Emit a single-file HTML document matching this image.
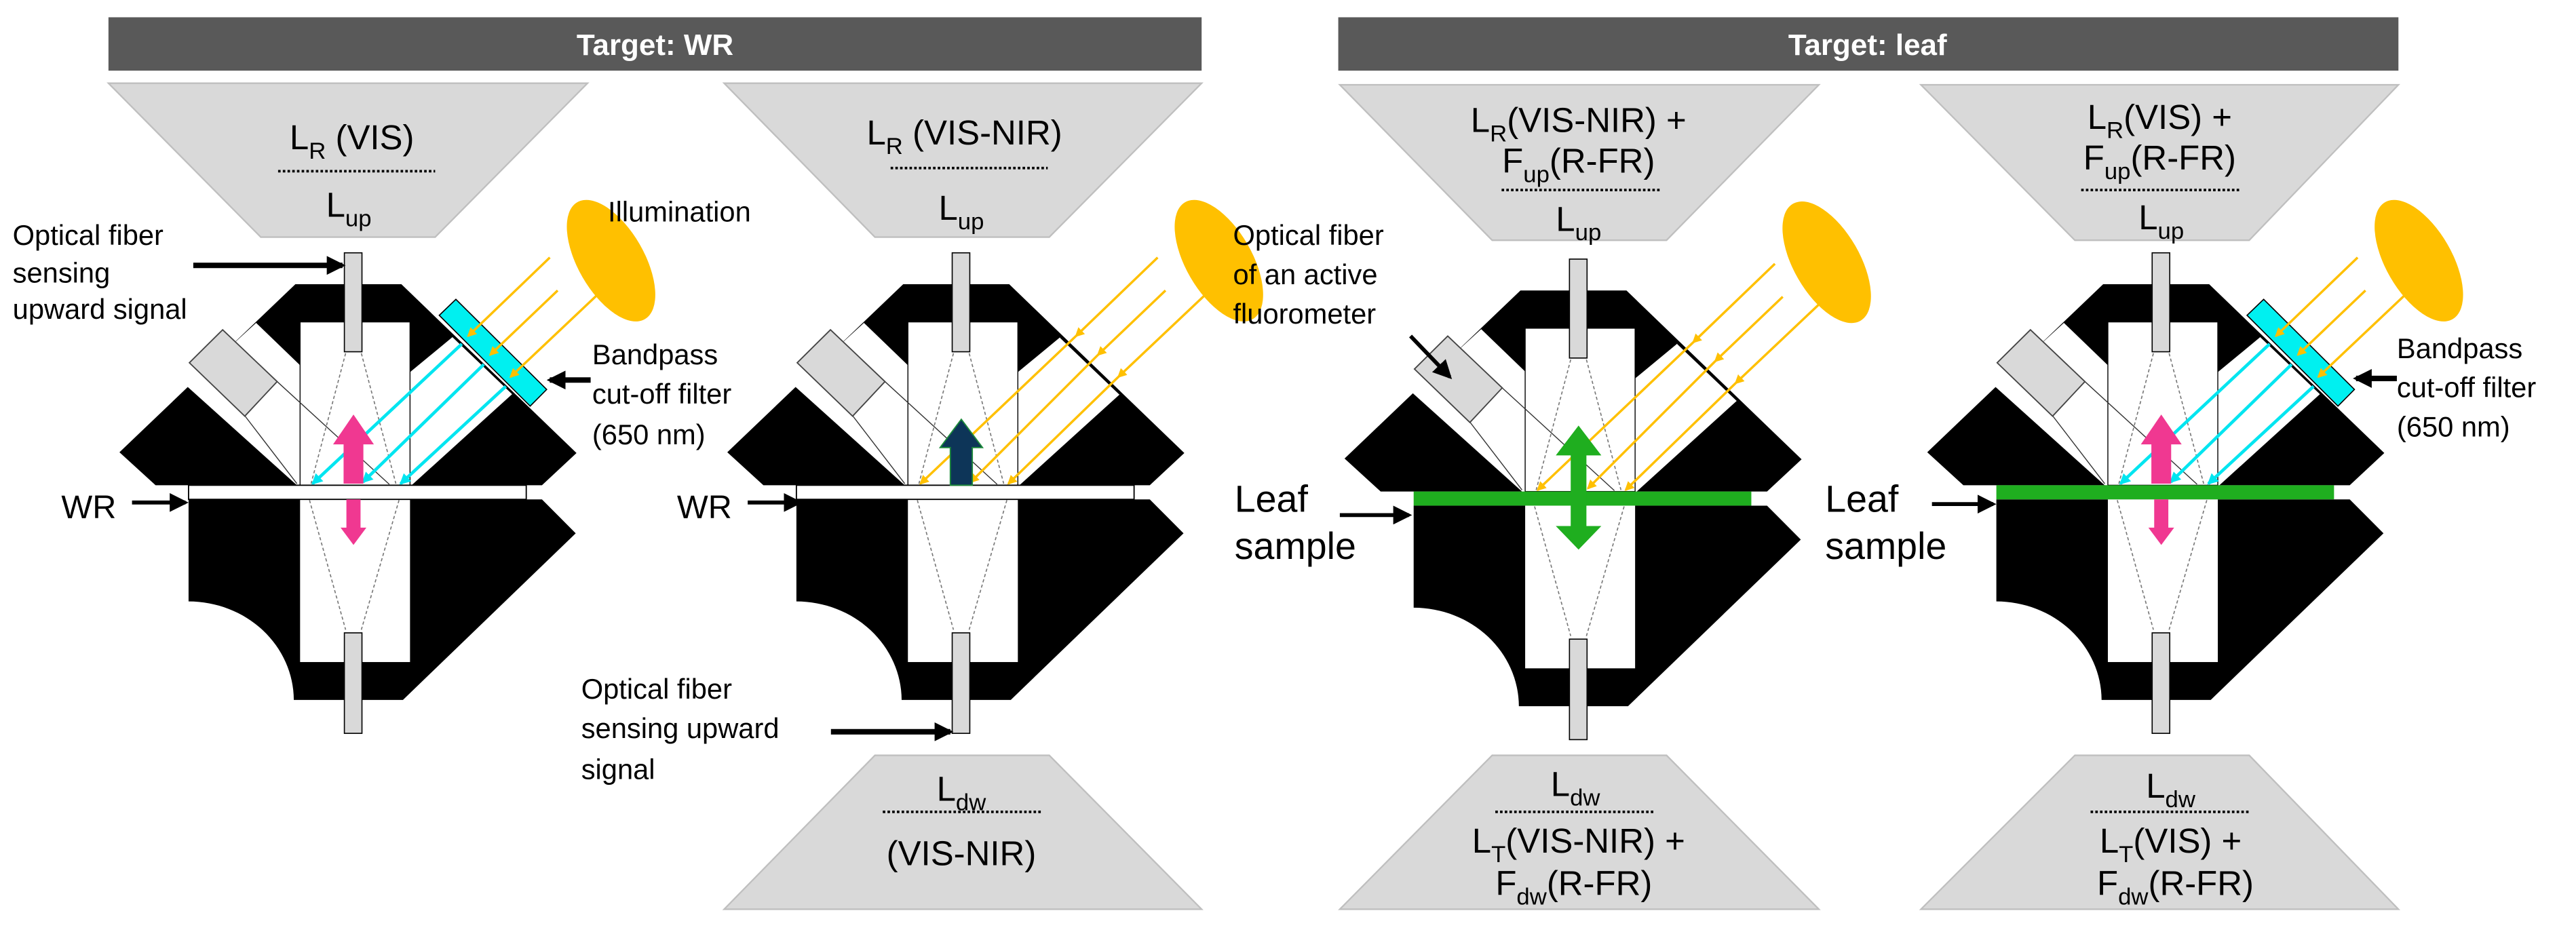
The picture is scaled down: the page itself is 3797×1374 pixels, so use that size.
<!DOCTYPE html>
<html><head><meta charset="utf-8"><style>
html,body{margin:0;padding:0;background:#fff;}
svg{display:block;}
text{font-family:"Liberation Sans",Arial,sans-serif;fill:#000;}
</style></head><body>
<svg width="3797" height="1374" viewBox="0 0 1640 593.5" xmlns="http://www.w3.org/2000/svg">
<defs>
<marker id="ya" markerWidth="6" markerHeight="6" refX="5" refY="3" orient="auto" markerUnits="userSpaceOnUse"><path d="M0,0 L6,3 L0,6 z" fill="#ffc000"/></marker>
<marker id="ca" markerWidth="7" markerHeight="7" refX="6" refY="3.5" orient="auto" markerUnits="userSpaceOnUse"><path d="M0,0 L7,3.5 L0,7 z" fill="#00e5f0"/></marker>
<marker id="ba" markerWidth="12" markerHeight="12" refX="10" refY="6" orient="auto" markerUnits="userSpaceOnUse"><path d="M0,0 L12,6 L0,12 z" fill="#000"/></marker>
<g id="body">
  <polygon points="-37,181 30.5,181 142,288.5 120,309 -126,309 -149,288" fill="#000"/>
  <polygon points="-106,246 -62,205.6 -34,232.6 -34,309 -36,309" fill="#fff"/>
  <polygon points="36,237 63,214.7 101,251 37,309 36,309" fill="#fff"/>
  <rect x="-34" y="205" width="70" height="104" fill="#fff" stroke="#000" stroke-width="0.6"/>
  <path d="M-105,318 L120,318 L141.5,339.6 L31.5,445.7 L-38,445.7 A67 63 0 0 0 -105,383 Z" fill="#000"/>
  <rect x="-34" y="318" width="70" height="103.6" fill="#fff"/>
  <rect x="-5.8" y="161" width="11.2" height="63" fill="#d9d9d9" stroke="#000" stroke-width="0.7"/>
  <rect x="-5.8" y="403" width="11.2" height="64" fill="#d9d9d9" stroke="#000" stroke-width="0.7"/>
  <g stroke="#777" stroke-width="0.7" stroke-dasharray="2,1.5" fill="none">
    <line x1="-5" y1="225" x2="-27" y2="308"/><line x1="5" y1="225" x2="27" y2="308"/>
    <line x1="-28" y1="318.5" x2="-5" y2="401"/><line x1="29" y1="318.5" x2="5" y2="401"/>
  </g>
  <g stroke="#333" stroke-width="0.6" fill="none">
    <line x1="-48.6" y1="243" x2="22.8" y2="308.4"/>
    <line x1="-69" y1="265" x2="-36" y2="308"/>
  </g>
  <polygon points="-104.5,231 -83.3,210 -48.6,243 -69.2,265" fill="#d9d9d9" stroke="#444" stroke-width="0.8"/>
</g>
<g id="filt">
  <polygon points="54.6,200.8 65.2,190.6 123,248 112.5,258.6" fill="#00f0f0" stroke="#000" stroke-width="0.7"/>
</g>
<g id="tline">
  <line x1="63" y1="214.7" x2="101" y2="251" stroke="#000" stroke-width="0.9"/>
</g>
<ellipse id="ell" cx="0" cy="0" rx="21" ry="43" fill="#ffc000"/>
</defs>

<!-- headers -->
<rect x="69" y="11" width="696" height="34" fill="#595959"/>
<text x="417" y="35" font-size="19" font-weight="bold" text-anchor="middle" style="fill:#fff">Target: WR</text>
<rect x="852" y="11" width="675" height="34" fill="#595959"/>
<text x="1189" y="35" font-size="19" font-weight="bold" text-anchor="middle" style="fill:#fff">Target: leaf</text>

<!-- trapezoids -->
<g fill="#d9d9d9" stroke="#bfbfbf" stroke-width="1">
<polygon points="69,53 374,53 277,151 166,151"/>
<polygon points="461,53 765,53 668,151 557,151"/>
<polygon points="853,54 1158,54 1061,153 950,153"/>
<polygon points="1223,54 1527,54 1432,153 1321,153"/>
<polygon points="557,481 668,481 765,579 461,579"/>
<polygon points="950,481 1061,481 1158,579 853,579"/>
<polygon points="1321,481 1432,481 1527,579 1223,579"/>
</g>
<g stroke="#000" stroke-width="1.6" stroke-dasharray="1.6,1.4">
<line x1="177" y1="109" x2="277" y2="109"/>
<line x1="567" y1="107" x2="667" y2="107"/>
<line x1="956" y1="121" x2="1057" y2="121"/>
<line x1="1325" y1="121" x2="1426" y2="121"/>
<line x1="562" y1="517" x2="663" y2="517"/>
<line x1="952" y1="517" x2="1054" y2="517"/>
<line x1="1331" y1="517" x2="1433" y2="517"/>
</g>
<g font-size="22" text-anchor="middle">
<text x="224" y="95">L<tspan font-size="15" dy="6">R</tspan><tspan dy="-6"> (VIS)</tspan></text>
<text x="222" y="138">L<tspan font-size="15" dy="6">up</tspan></text>
<text x="614" y="92">L<tspan font-size="15" dy="6">R</tspan><tspan dy="-6"> (VIS-NIR)</tspan></text>
<text x="612" y="140">L<tspan font-size="15" dy="6">up</tspan></text>
<text x="1005" y="84">L<tspan font-size="15" dy="6">R</tspan><tspan dy="-6">(VIS-NIR) +</tspan></text>
<text x="1005" y="110">F<tspan font-size="15" dy="6">up</tspan><tspan dy="-6">(R-FR)</tspan></text>
<text x="1005" y="147">L<tspan font-size="15" dy="6">up</tspan></text>
<text x="1375" y="82">L<tspan font-size="15" dy="6">R</tspan><tspan dy="-6">(VIS) +</tspan></text>
<text x="1375" y="108">F<tspan font-size="15" dy="6">up</tspan><tspan dy="-6">(R-FR)</tspan></text>
<text x="1376" y="146">L<tspan font-size="15" dy="6">up</tspan></text>
<text x="612" y="510">L<tspan font-size="15" dy="6">dw</tspan></text>
<text x="612" y="551">(VIS-NIR)</text>
<text x="1003" y="507">L<tspan font-size="15" dy="6">dw</tspan></text>
<text x="1005" y="543">L<tspan font-size="15" dy="6">T</tspan><tspan dy="-6">(VIS-NIR) +</tspan></text>
<text x="1002" y="570">F<tspan font-size="15" dy="6">dw</tspan><tspan dy="-6">(R-FR)</tspan></text>
<text x="1382" y="508">L<tspan font-size="15" dy="6">dw</tspan></text>
<text x="1382" y="543">L<tspan font-size="15" dy="6">T</tspan><tspan dy="-6">(VIS) +</tspan></text>
<text x="1385" y="570">F<tspan font-size="15" dy="6">dw</tspan><tspan dy="-6">(R-FR)</tspan></text>
</g>

<!-- Panel 1 -->
<g transform="translate(225,0)">
  <use href="#body"/>
  <rect x="-105" y="309" width="215" height="9" fill="#fff" stroke="#000" stroke-width="0.8"/>
  <g stroke="#00e5f0" stroke-width="2" marker-end="url(#ca)">
    <line x1="69" y1="219" x2="-26" y2="308"/>
    <line x1="83" y1="232" x2="6" y2="307"/>
    <line x1="97" y1="246" x2="30" y2="308"/>
  </g>
  <use href="#filt"/>
  <g stroke="#ffc000" stroke-width="1.5" marker-end="url(#ya)">
    <line x1="125" y1="164" x2="73" y2="214"/>
    <line x1="130" y1="185" x2="87" y2="226"/>
    <line x1="155" y1="188" x2="100" y2="240"/>
  </g>
  <use href="#ell" transform="translate(164,166) rotate(-30)"/>
  <g fill="#f03891">
    <polygon points="0,264 13,283 6.3,283 6.3,308 -6.3,308 -6.3,283 -13,283"/>
    <polygon points="-4.5,318 4.5,318 4.5,336 8.2,336 0,347 -8.2,336 -4.5,336"/>
  </g>
</g>

<!-- Panel 2 -->
<g transform="translate(612,0)">
  <use href="#body"/>
  <rect x="-105" y="309" width="215" height="9" fill="#fff" stroke="#000" stroke-width="0.8"/>
  <use href="#tline"/>
  <g stroke="#ffc000" stroke-width="1.5">
    <line x1="73" y1="214" x2="-26" y2="308" marker-end="url(#ya)"/>
    <line x1="87" y1="226" x2="6" y2="307" marker-end="url(#ya)"/>
    <line x1="100" y1="240" x2="30" y2="308" marker-end="url(#ya)"/>
    <line x1="125" y1="164" x2="73" y2="214" marker-end="url(#ya)"/>
    <line x1="130" y1="185" x2="87" y2="226" marker-end="url(#ya)"/>
    <line x1="155" y1="188" x2="100" y2="240" marker-end="url(#ya)"/>
  </g>
  <use href="#ell" transform="translate(164,166) rotate(-30)"/>
  <polygon points="0,267 13.5,285 7,285 7,309 -7,309 -7,285 -13.5,285" fill="#0d3558" stroke="#1c8a3a" stroke-width="0.8"/>
</g>

<!-- Panel 3 -->
<g transform="translate(1005,4)">
  <use href="#body"/>
  <rect x="-105" y="309" width="215" height="9" fill="#1fae1f"/>
  <use href="#tline"/>
  <g stroke="#ffc000" stroke-width="1.5">
    <line x1="73" y1="214" x2="-26" y2="308" marker-end="url(#ya)"/>
    <line x1="87" y1="226" x2="6" y2="307" marker-end="url(#ya)"/>
    <line x1="100" y1="240" x2="30" y2="308" marker-end="url(#ya)"/>
    <line x1="125" y1="164" x2="73" y2="214" marker-end="url(#ya)"/>
    <line x1="130" y1="185" x2="87" y2="226" marker-end="url(#ya)"/>
    <line x1="155" y1="188" x2="100" y2="240" marker-end="url(#ya)"/>
  </g>
  <use href="#ell" transform="translate(158,163) rotate(-30)"/>
  <g fill="#1fae1f">
    <polygon points="0,267 14.5,286 5,286 5,331 14.5,331 0,346 -14.5,331 -5,331 -5,286 -14.5,286"/>
  </g>
</g>

<!-- Panel 4 -->
<g transform="translate(1376,0)">
  <use href="#body"/>
  <rect x="-105" y="309" width="215" height="9" fill="#1fae1f"/>
  <g stroke="#00e5f0" stroke-width="2" marker-end="url(#ca)">
    <line x1="69" y1="219" x2="-26" y2="308"/>
    <line x1="83" y1="232" x2="6" y2="307"/>
    <line x1="97" y1="246" x2="30" y2="308"/>
  </g>
  <use href="#filt"/>
  <g stroke="#ffc000" stroke-width="1.5" marker-end="url(#ya)">
    <line x1="125" y1="164" x2="73" y2="214"/>
    <line x1="130" y1="185" x2="87" y2="226"/>
    <line x1="155" y1="188" x2="100" y2="240"/>
  </g>
  <use href="#ell" transform="translate(164,166) rotate(-30)"/>
  <g fill="#f03891">
    <polygon points="0,264 13,283 6.3,283 6.3,308 -6.3,308 -6.3,283 -13,283"/>
    <polygon points="-4.5,318 4.5,318 4.5,336 8.2,336 0,347 -8.2,336 -4.5,336"/>
  </g>
</g>

<!-- labels -->
<g font-size="18">
<text x="8" y="156">Optical fiber</text>
<text x="8" y="180">sensing</text>
<text x="8" y="203">upward signal</text>
<text x="387" y="141">Illumination</text>
<text x="377" y="232">Bandpass</text>
<text x="377" y="257">cut-off filter</text>
<text x="377" y="283">(650 nm)</text>
<text x="370" y="445">Optical fiber</text>
<text x="370" y="470">sensing upward</text>
<text x="370" y="496">signal</text>
<text x="785" y="156">Optical fiber</text>
<text x="785" y="181">of an active</text>
<text x="785" y="206">fluorometer</text>
<text x="1526" y="228">Bandpass</text>
<text x="1526" y="253">cut-off filter</text>
<text x="1526" y="278">(650 nm)</text>
</g>
<g font-size="21">
<text x="39" y="330">WR</text>
<text x="431" y="330">WR</text>
</g>
<g font-size="24">
<text x="786" y="326">Leaf</text>
<text x="786" y="356">sample</text>
<text x="1162" y="326">Leaf</text>
<text x="1162" y="356">sample</text>
</g>
<g stroke="#000" stroke-width="3.5" marker-end="url(#ba)">
<line x1="123" y1="169" x2="218" y2="169"/>
<line x1="376" y1="242" x2="350" y2="242"/>
<line x1="84" y1="320" x2="118" y2="320" stroke-width="2.5"/>
<line x1="476" y1="320" x2="509" y2="320" stroke-width="2.5"/>
<line x1="529" y1="466" x2="605" y2="466"/>
<line x1="898" y1="214" x2="923" y2="240" stroke-width="2.5"/>
<line x1="853" y1="328" x2="897" y2="328" stroke-width="2.5"/>
<line x1="1230" y1="321" x2="1269" y2="321" stroke-width="2.5"/>
<line x1="1526" y1="241" x2="1500" y2="241"/>
</g>
</svg>
</body></html>
